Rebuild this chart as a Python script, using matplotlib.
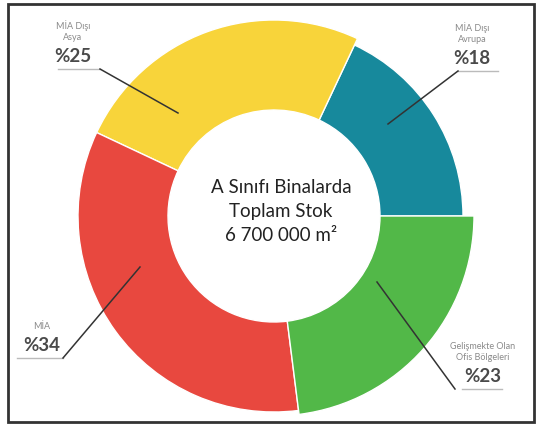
import matplotlib.pyplot as plt

# --- Stock distribution of class A office buildings ---
labels = ['MİA Dışı\nAvrupa', 'MİA Dışı\nAsya', 'MİA', 'Gelişmekte Olan\nOfis Bölgeleri']
shares = [18, 25, 34, 23]
pct_labels = ['%18', '%25', '%34', '%23']
colors = ['#17899c', '#f8d43a', '#e8483f', '#52b848']
center_text = 'A Sınıfı Binalarda\nToplam Stok\n6 700 000 m²'

# outer radius per slice (pixels), hole radius
outer_r = [189, 196, 196, 200]
inner_r = 106
cx, cy = 274, 217

fig = plt.figure(figsize=(5.4, 4.27), dpi=100)
ax = fig.add_axes([0, 0, 1, 1])

wedges, _ = ax.pie(shares, colors=colors, startangle=0, counterclock=False,
                   center=(cx, cy), radius=200,
                   wedgeprops=dict(width=200 - inner_r, edgecolor='white', linewidth=1))
for w, r in zip(wedges, outer_r):
    w.set_radius(r)
    w.set_width(r - inner_r)

ax.set_xlim(0, 540)
ax.set_ylim(427, 0)
ax.set_aspect('equal')
ax.axis('off')

# --- center text ---
ax.text(281, 212, center_text, ha='center', va='center', fontsize=13.5,
        family='Lato', color='#222222', linespacing=1.5)

# --- slice labels with leader lines ---
# (label x, underline x0, x1, y, leader start x, end x, end y)
label_pos = [
    (472, 458, 498, 72, 458, 388, 125),
    (73, 58, 100, 70, 100, 178, 114),
    (42, 17, 63, 359, 63, 140, 268),
    (483, 462, 502, 390, 455, 377, 283),
]
for lab, pct, (tx, x0, x1, uy, lx, ex, ey) in zip(labels, pct_labels, label_pos):
    ax.text(tx, uy - 13, pct, ha='center', va='center', fontsize=13.5,
            family='Lato', color='#4a4a4a', fontweight='bold')
    ax.text(tx, uy - 28, lab, ha='center', va='bottom', fontsize=6.5,
            family='Lato', color='#8a8a8a', linespacing=1.3)
    ax.plot([x0, x1], [uy, uy], color='#bbbbbb', lw=1)
    ax.plot([lx, ex], [uy, ey], color='#333333', lw=1.1)

# --- frame ---
ax.add_patch(plt.Rectangle((8, 5), 526, 418, fill=False, edgecolor='#333333', lw=2))

plt.savefig('out.png', dpi=100)
plt.close()
